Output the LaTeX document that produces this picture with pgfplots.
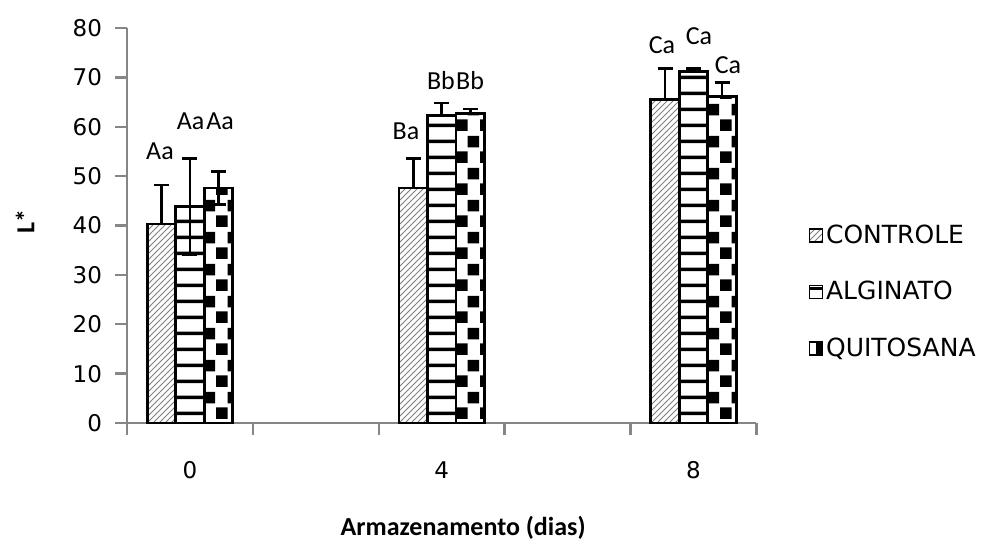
\documentclass[border=0pt]{standalone}
\usepackage{pgfplots}
\pgfplotsset{compat=1.18}
\usepackage{fontspec}
\setmainfont{Carlito}
\newfontfamily\dejavu{DejaVu Sans}
\usetikzlibrary{patterns}

% horizontal bands for ALGINATO
\pgfdeclarepatternformonly{hbands}{\pgfqpoint{0pt}{0pt}}{\pgfqpoint{30pt}{7.8pt}}{\pgfqpoint{30pt}{7.8pt}}{%
  \pgfpathrectangle{\pgfqpoint{-1pt}{3pt}}{\pgfqpoint{32pt}{1.8pt}}\pgfusepath{fill}}
% staggered squares for QUITOSANA
\pgfdeclarepatternformonly{stagsquares}{\pgfqpoint{0pt}{0pt}}{\pgfqpoint{12pt}{16pt}}{\pgfqpoint{12pt}{16pt}}{%
  \pgfpathrectangle{\pgfqpoint{0pt}{0pt}}{\pgfqpoint{6pt}{6pt}}%
  \pgfpathrectangle{\pgfqpoint{6pt}{8pt}}{\pgfqpoint{6pt}{6pt}}%
  \pgfusepath{fill}}

\definecolor{axisgray}{RGB}{134,134,134}

\begin{document}
\begin{tikzpicture}[font=\fontsize{13}{15}\selectfont]
\begin{axis}[
  at={(0,0)}, anchor=south west,
  scale only axis,
  width=314.75pt, height=197.5pt,
  ybar=0pt, bar width=0.226,
  xmin=-0.5, xmax=4.5,
  ymin=0, ymax=80,
  ytick={0,10,...,80},
  xtick={-0.5,0.5,...,4.5}, xticklabels={},
  extra x ticks={0,2,4}, extra x tick labels={0,4,8},
  extra x tick style={major tick length=0pt, xticklabel style={anchor=center, yshift=-23.5pt}},
  axis x line*=bottom, axis y line*=left,
  axis line style={draw=axisgray, line width=1.2pt},
  tick style={draw=axisgray, line width=1.2pt},
  tick align=outside, major tick length=6pt,
  /pgf/number format/assume math mode=true,
  ticklabel style={font=\dejavu\fontsize{11.5}{13}\selectfont},
  yticklabel style={anchor=east, xshift=-3pt},
  ylabel={\textbf{L*}},
  ylabel style={at={(axis description cs:-0.162,0.51)}, anchor=center},
  xlabel={\textbf{Armazenamento (dias)}},
  xlabel style={at={(axis description cs:0.534,-0.266)}, anchor=center},
  clip=false,
  legend style={at={(axis description cs:1.082,0.332)}, anchor=west,
    draw=none, fill=none, row sep=14.5pt, inner sep=0pt,
    font=\dejavu\fontsize{12.5}{14}\selectfont,
    nodes={inner sep=1.5pt}},
  legend cell align=left,
  legend image code/.code={\draw[#1, line width=0.8pt] (0pt,-3.25pt) rectangle (6.5pt,3.25pt);},
  every axis plot/.append style={draw=black, line width=1.4pt,
    error bars/error bar style={line width=1.4pt, draw=black},
    error bars/error mark options={rotate=90, mark size=3.75pt, line width=1.4pt, draw=black}},
]
\addplot[fill=white, postaction={pattern=north east lines, pattern color=gray},
  error bars/.cd, y dir=plus, y explicit]
  coordinates {(0,40.3) +- (0,7.9) (2,47.6) +- (0,6.0) (4,65.6) +- (0,6.2)};
\addplot[fill=white, postaction={pattern=hbands, pattern color=black},
  error bars/.cd, y dir=both, y explicit]
  coordinates {(0,43.8) += (0,9.7) -= (0,9.7) (2,62.3) += (0,2.5) -= (0,0) (4,71.2) += (0,0.6) -= (0,0)};
\addplot[fill=white, postaction={pattern=stagsquares, pattern color=black},
  error bars/.cd, y dir=both, y explicit]
  coordinates {(0,47.6) += (0,3.3) -= (0,3.3) (2,62.7) += (0,0.9) -= (0,0) (4,66.2) += (0,2.7) -= (0,0)};
\legend{CONTROLE, ALGINATO, QUITOSANA}

% significance letters
\node at (axis cs:-0.238,55.1) {Aa};
\node at (axis cs:0.005,61.2) {Aa};
\node at (axis cs:0.240,61.2) {Aa};
\node at (axis cs:1.716,59.1) {Ba};
\node at (axis cs:1.994,69.3) {Bb};
\node at (axis cs:2.225,69.3) {Bb};
\node at (axis cs:3.749,76.6) {Ca};
\node at (axis cs:4.043,78.3) {Ca};
\node at (axis cs:4.274,72.5) {Ca};
\end{axis}
\pgfresetboundingbox
\path (-63.5pt,-61.5pt) rectangle (431pt,211.5pt);
\end{tikzpicture}
\end{document}
